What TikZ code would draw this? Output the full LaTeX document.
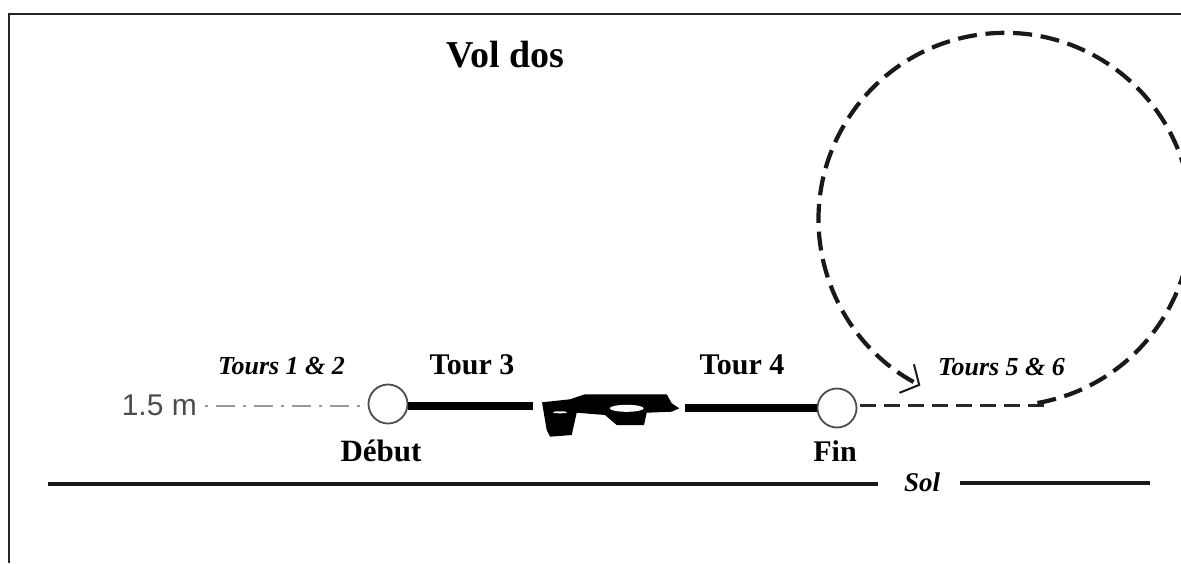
\documentclass[tikz,border=0pt]{standalone}
\usepackage{fontspec}
\setmainfont{Liberation Serif}
\newfontfamily\arialfont{Liberation Sans}
\usetikzlibrary{arrows.meta}
\tikzset{
  lbl/.style={inner sep=0pt,font=\bfseries\fontsize{30}{32}\selectfont},
  tourlbl/.style={inner sep=0pt,font=\bfseries\itshape\fontsize{26}{28}\selectfont},
  marker/.style={circle,draw=black!70,line width=1.8pt,fill=white,minimum size=39pt,inner sep=0pt},
  heavy/.style={line width=7.5pt,black},
  groundline/.style={line width=3.2pt,black!90},
  frameline/.style={line width=2pt,black!85},
  loopdash/.style={line width=4.2pt,dash pattern=on 19pt off 8.7pt,black!90},
  flatdash/.style={line width=2.8pt,dash pattern=on 16pt off 8pt,black!85},
  heightline/.style={line width=2.2pt,black!40,dash pattern=on 3pt off 8pt on 19pt off 8pt}
}
\begin{document}
\begin{tikzpicture}[x=1pt,y=-1pt]
\useasboundingbox (0,0) rectangle (1181,563);
\fill[white] (0,0) rectangle (1181,563);
% frame
\coordinate (fTL) at (9,14);
\coordinate (fBL) at (9,563);
\coordinate (fTR) at (1181,14);
\draw[frameline] (fBL) -- (fTL) -- (fTR);
% text
\node[inner sep=0pt,font=\bfseries\fontsize{38}{40}\selectfont] (title) at (505,55) {Vol dos};
\node[inner sep=0pt,text=black!70,font=\arialfont\fontsize{30}{32}\selectfont,anchor=east] (height) at (197,405) {1.5 m};
\node[tourlbl] (t12) at (281.5,366) {Tours 1 \& 2};
\node[tourlbl] (t56) at (1001.5,367) {Tours 5 \& 6};
\node[lbl] (t3) at (472,365) {Tour 3};
\node[lbl] (t4) at (742,365) {Tour 4};
\node[lbl,font=\bfseries\fontsize{31}{34}\selectfont] (debutlbl) at (381,451) {Début};
\node[lbl,font=\bfseries\fontsize{30}{32}\selectfont] (finlbl) at (835,451) {Fin};
\node[tourlbl,font=\bfseries\itshape\fontsize{27}{28}\selectfont] (sol) at (922,482) {Sol};
% markers
\node[marker] (debut) at (388,404) {};
\node[marker] (fin) at (837,408) {};
% aircraft
\coordinate (planeL) at (533,406);
\coordinate (planeR) at (685,408);
\fill[black] (542,402.3) -- (570,399.3) -- (585,394.3) -- (666.7,394.3) -- (671.7,403.3) -- (679.3,408.3) -- (671.7,411.7) -- (646.7,412.7) -- (644,425) -- (616.7,425) -- (605,415) -- (576.7,412.7) -- (571.7,435) -- (550,436.7) -- (546.7,430) -- cycle;
\fill[white] (626.7,408.3) ellipse [x radius=17,y radius=3.5];
\fill[white] (560,412.3) ellipse [x radius=7,y radius=1];
% connectors
\coordinate (hstart) at (205,406);
\draw[heightline] (hstart) -- (debut.west |- hstart);
\draw[heavy] (debut.east |- planeL) -- (planeL);
\draw[heavy] (planeR) -- (fin.west);
\draw[flatdash] (fin.east |- 0,405.5) ++(3,0) -- (1048,405.5);
\begin{scope}
\clip (0,0) rectangle (1181,563);
\draw[loopdash,-{Straight Barb[length=14pt,width=32pt,line width=2pt]}]
  (1037.4,403) arc [start angle=80,end angle=-243,radius=186.5];
\end{scope}
\coordinate (gL) at (48,484);
\coordinate (gR) at (1150,483);
\draw[groundline] (gL) -- (878,484);
\draw[groundline] (960,483) -- (gR);
\end{tikzpicture}
\end{document}
